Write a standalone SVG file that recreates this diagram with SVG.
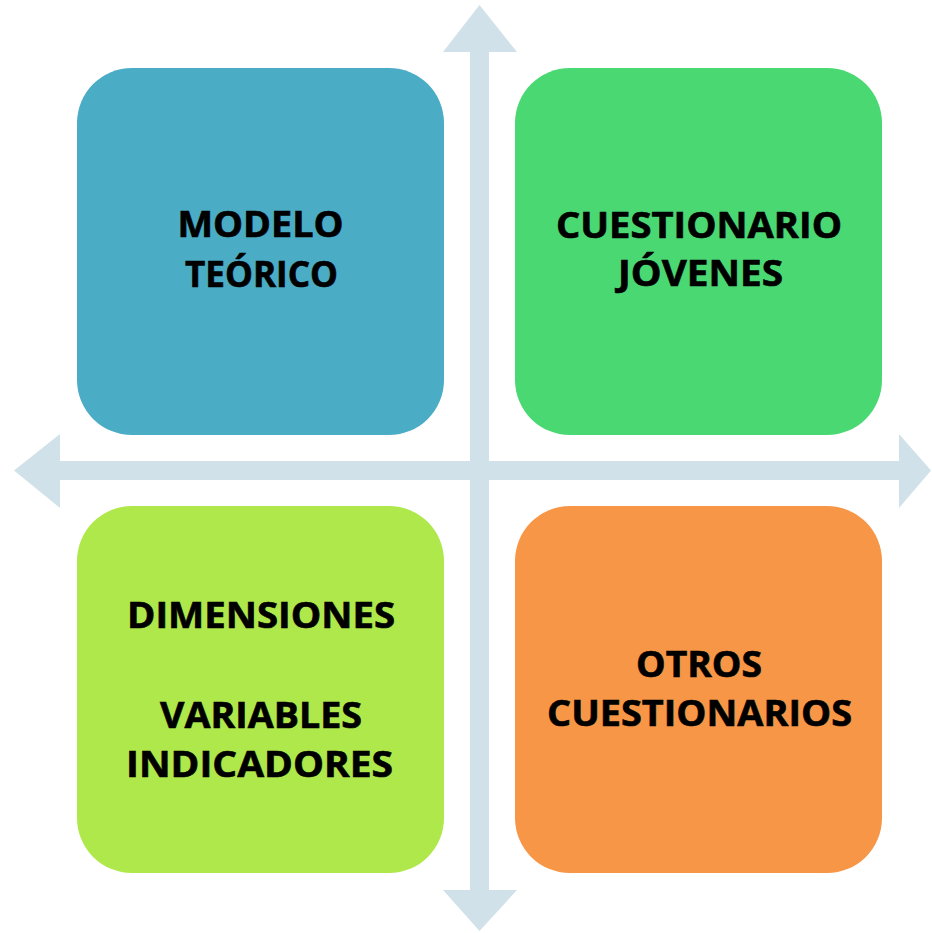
<svg xmlns="http://www.w3.org/2000/svg" width="932" height="933" viewBox="0 0 932 933">
  <style>
    .axis { fill: #D0E1E9; }
    .box { stroke: none; }
    .lbl { font-family: "Open Sans", "Noto Sans", "Liberation Sans", sans-serif; font-weight: bold; font-size: 35px; fill: #000000; stroke: #000000; stroke-width: 0.6px; text-anchor: middle; }
  </style>
  <rect width="932" height="933" fill="#FFFFFF"/>
  <g id="connectors">
    <path class="axis" d="M479.5,5 L517,52 L489,52 L489,890 L517,890 L479.5,931 L443,890 L470,890 L470,52 L443,52 Z"/>
    <path class="axis" d="M14,470.5 L60,434 L60,461 L899,461 L899,434 L931,470.5 L899,508 L899,480 L60,480 L60,508 Z"/>
  </g>
  <g id="node-modelo">
    <rect class="box" x="77" y="68" width="367" height="367" rx="55" ry="55" fill="#4BACC6"/>
    <text class="lbl" x="260.5" y="237" textLength="166" lengthAdjust="spacingAndGlyphs">MODELO</text>
    <text class="lbl" x="261.5" y="287" textLength="153" lengthAdjust="spacingAndGlyphs">TEÓRICO</text>
  </g>
  <g id="node-cuestionario">
    <rect class="box" x="515" y="68" width="367" height="367" rx="55" ry="55" fill="#4AD873"/>
    <text class="lbl" x="699" y="237.5" textLength="286" lengthAdjust="spacingAndGlyphs">CUESTIONARIO</text>
    <text class="lbl" x="700.5" y="285.5" textLength="165" lengthAdjust="spacingAndGlyphs">JÓVENES</text>
  </g>
  <g id="node-dimensiones">
    <rect class="box" x="77" y="506" width="367" height="367" rx="55" ry="55" fill="#AEE84A"/>
    <text class="lbl" x="261" y="627.5" textLength="268" lengthAdjust="spacingAndGlyphs">DIMENSIONES</text>
    <text class="lbl" x="261" y="728" textLength="202" lengthAdjust="spacingAndGlyphs">VARIABLES</text>
    <text class="lbl" x="259.5" y="777" textLength="267" lengthAdjust="spacingAndGlyphs">INDICADORES</text>
  </g>
  <g id="node-otros">
    <rect class="box" x="515" y="506" width="367" height="367" rx="55" ry="55" fill="#F79646"/>
    <text class="lbl" x="699" y="677" textLength="126" lengthAdjust="spacingAndGlyphs">OTROS</text>
    <text class="lbl" x="699.5" y="725.5" textLength="305" lengthAdjust="spacingAndGlyphs">CUESTIONARIOS</text>
  </g>
</svg>
